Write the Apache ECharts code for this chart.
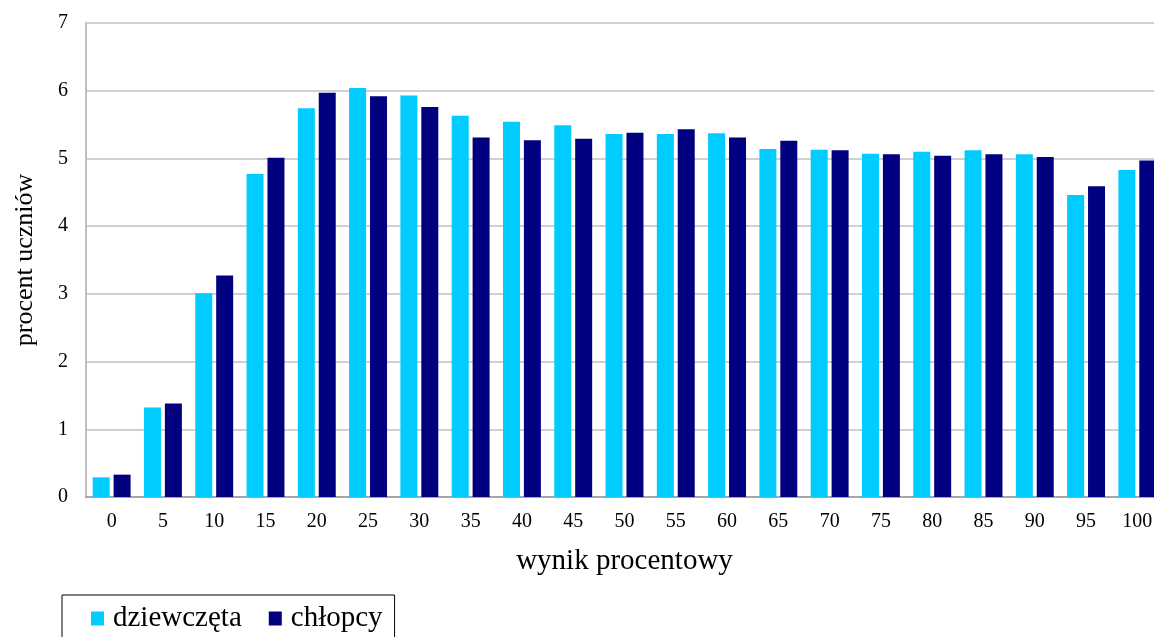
<!DOCTYPE html>
<html>
<head>
<meta charset="utf-8">
<script src="https://cdn.jsdelivr.net/npm/echarts@6/dist/echarts.min.js"></script>
<style>
  html, body { margin: 0; padding: 0; background: #fff; }
  #chart { width: 1154px; height: 637px; }
</style>
</head>
<body>
<div id="chart"></div>
<script>
// wynik procentowy
const categories = ['0', '5', '10', '15', '20', '25', '30', '35', '40', '45', '50',
  '55', '60', '65', '70', '75', '80', '85', '90', '95', '100']
const girls = [0.29, 1.32, 3.01, 4.77, 5.74, 6.04, 5.93, 5.63, 5.54, 5.49, 5.36,
  5.36, 5.37, 5.14, 5.13, 5.07, 5.10, 5.12, 5.06, 4.46, 4.83]
const boys = [0.33, 1.38, 3.27, 5.01, 5.97, 5.92, 5.76, 5.31, 5.27, 5.29, 5.38,
  5.43, 5.31, 5.26, 5.12, 5.06, 5.04, 5.06, 5.02, 4.59, 4.97]

const font = 'Liberation Serif'
const chart = echarts.init(document.getElementById('chart'))

chart.setOption({
  animation: false,
  textStyle: { fontFamily: font, color: '#000' },
  grid: {
    left: 86,
    width: 1077, // plot runs past the right edge, last bar is cut
    top: 23,
    bottom: 140,
    containLabel: false,
    outerBoundsMode: 'none'
  },
  legend: {
    left: 62,
    top: 595,
    padding: [9, 12, 12, 29],
    itemWidth: 13,
    itemHeight: 14,
    itemGap: 27,
    borderColor: '#000',
    borderWidth: 1,
    borderRadius: 0,
    icon: 'rect',
    textStyle: { fontFamily: font, fontSize: 29, color: '#000', padding: [0, 0, 0, 4] },
    data: ['dziewczęta', 'chłopcy']
  },
  xAxis: {
    type: 'category',
    data: categories,
    name: 'wynik procentowy',
    nameLocation: 'middle',
    nameGap: 50,
    nameTextStyle: { fontFamily: font, fontSize: 29, color: '#000' },
    axisLine: { lineStyle: { color: '#a6a6a6', width: 2 } },
    axisTick: { show: false },
    axisLabel: { fontFamily: font, fontSize: 20, color: '#000', margin: 15 }
  },
  yAxis: {
    type: 'value',
    min: 0,
    max: 7,
    interval: 1,
    name: 'procent uczniów',
    nameLocation: 'middle',
    nameGap: 48,
    nameTextStyle: { fontFamily: font, fontSize: 26, color: '#000' },
    axisLine: { show: true, lineStyle: { color: '#bfbfbf', width: 2 } },
    axisTick: { show: false },
    axisLabel: { fontFamily: font, fontSize: 20, color: '#000', margin: 18 },
    splitLine: { lineStyle: { color: '#c0c0c0', width: 1.5 } }
  },
  series: [{
    name: 'dziewczęta',
    type: 'bar',
    barWidth: 17,
    barGap: '23%',
    itemStyle: { color: '#00ccff' },
    data: girls
  }, {
    name: 'chłopcy',
    type: 'bar',
    barWidth: 17,
    itemStyle: { color: '#000080' },
    data: boys
  }]
})
</script>
</body>
</html>
